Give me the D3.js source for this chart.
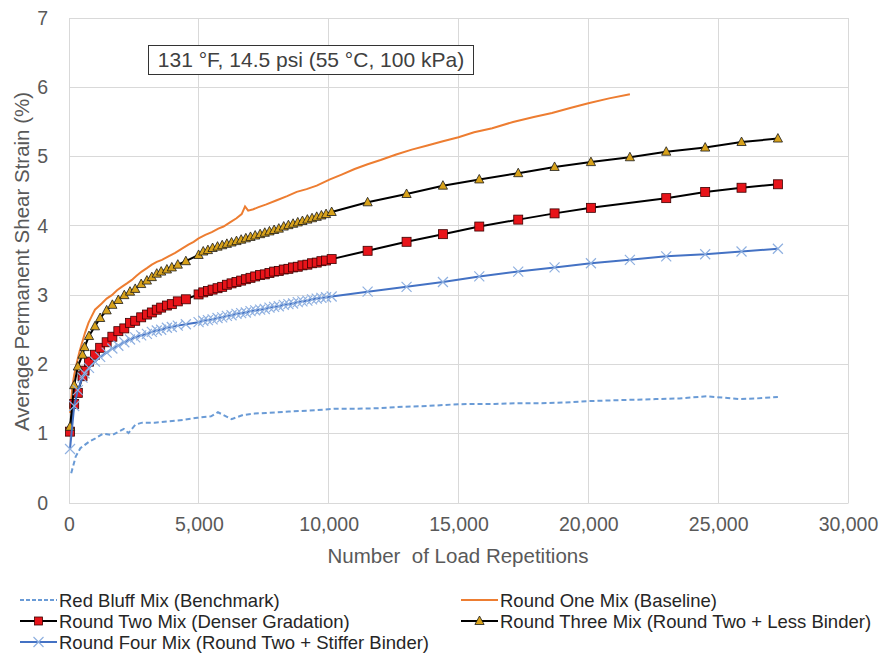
<!DOCTYPE html>
<html><head><meta charset="utf-8">
<script src="https://cdn.jsdelivr.net/npm/d3@7"></script>
<style>
html,body{margin:0;padding:0;background:#fff;}
svg{display:block;font-family:"Liberation Sans",Arial,sans-serif;}
</style></head>
<body>
<svg id="chart" width="882" height="656"></svg>
<script>
// ---------- data ----------
const xTicks = [0, 5000, 10000, 15000, 20000, 25000, 30000];
const yTicks = [0, 1, 2, 3, 4, 5, 6, 7];

const seriesNames = [
  "Red Bluff Mix (Benchmark)",
  "Round One Mix (Baseline)",
  "Round Two Mix (Denser Gradation)",
  "Round Three Mix (Round Two + Less Binder)",
  "Round Four Mix (Round Two + Stiffer Binder)"
];

const redBluffCycles = [85,258,435,790,1000,1315,1670,2110,2290,2555,2820,3300,3875,4400,4940,5470,5735,6260,6700,7150,7585,8470,9530,10240,11100,12010,12900,13780,14700,15540,16400,17310,18200,19080,19960,20800,21730,22600,23500,24570,25200,25810,26500,27300];
const redBluffStrain = [0.43,0.67,0.79,0.89,0.93,1.00,0.98,1.07,1.01,1.13,1.16,1.16,1.18,1.20,1.23,1.25,1.31,1.21,1.27,1.29,1.30,1.32,1.34,1.36,1.36,1.37,1.39,1.40,1.42,1.43,1.43,1.44,1.44,1.45,1.47,1.48,1.49,1.50,1.51,1.54,1.52,1.50,1.51,1.53];

const roundOneCycles = [40,130,200,300,400,500,620,750,880,1000,1260,1450,1650,1850,2030,2230,2420,2600,2800,3000,3190,3380,3580,3830,4090,4350,4600,4800,4990,5250,5500,5750,5950,6200,6450,6650,6780,6900,7100,7300,7600,8000,8400,8770,9150,9540,10050,10500,11000,11500,12000,12600,13200,13800,14400,15000,15600,16300,17100,17900,18600,19300,20000,20800,21600];
const roundOneStrain = [1.30,1.68,1.85,2.02,2.18,2.31,2.46,2.60,2.70,2.79,2.88,2.95,3.00,3.07,3.12,3.17,3.22,3.28,3.34,3.39,3.44,3.48,3.51,3.56,3.61,3.67,3.73,3.77,3.82,3.87,3.91,3.96,3.99,4.05,4.11,4.17,4.28,4.22,4.24,4.27,4.31,4.37,4.43,4.49,4.53,4.58,4.67,4.74,4.82,4.89,4.95,5.03,5.10,5.16,5.22,5.28,5.35,5.41,5.50,5.57,5.63,5.70,5.77,5.84,5.90];

const markedCycles = [40,200,340,520,600,770,1000,1200,1450,1670,1900,2130,2350,2550,2780,3000,3190,3380,3550,3770,3960,4190,4500,4990,
  5170,5350,5530,5720,5900,6080,6260,6450,6630,6810,6990,7170,7360,7540,7720,7900,8080,8270,8450,8630,8810,8990,9180,9360,9540,9720,9900,10115,
  11500,13000,14400,15800,17300,18700,20100,21600,23000,24500,25900,27300];

const roundTwoStrain = [1.03,1.43,1.59,1.83,1.91,2.04,2.14,2.24,2.32,2.40,2.48,2.52,2.60,2.63,2.68,2.72,2.75,2.79,2.82,2.85,2.87,2.91,2.94,3.01,
  3.04,3.06,3.08,3.10,3.12,3.15,3.17,3.19,3.21,3.23,3.25,3.27,3.29,3.30,3.32,3.34,3.35,3.37,3.38,3.40,3.41,3.43,3.44,3.46,3.47,3.49,3.50,3.52,
  3.64,3.77,3.88,3.99,4.09,4.18,4.26,null,4.40,4.49,4.55,4.60];

const roundThreeStrain = [1.10,1.70,1.97,2.14,2.25,2.41,2.55,2.67,2.78,2.86,2.93,3.00,3.05,3.09,3.16,3.21,3.26,3.31,3.34,3.37,3.40,3.44,3.49,3.58,
  3.63,3.65,3.68,3.70,3.72,3.74,3.76,3.78,3.80,3.82,3.84,3.86,3.88,3.90,3.92,3.94,3.96,3.99,4.01,4.03,4.05,4.07,4.09,4.11,4.13,4.15,4.17,4.20,
  4.34,4.46,4.58,4.67,4.76,4.85,4.92,4.99,5.07,5.13,5.21,5.26];

const roundFourStrain = [0.78,1.40,1.63,1.81,1.87,1.95,2.04,2.11,2.17,2.23,2.27,2.32,2.36,2.39,2.42,2.44,2.47,2.49,2.50,2.53,2.54,2.56,2.58,2.61,
  2.63,2.64,2.65,2.67,2.68,2.70,2.71,2.73,2.74,2.75,2.77,2.78,2.79,2.80,2.82,2.83,2.84,2.86,2.87,2.88,2.90,2.91,2.92,2.94,2.95,2.96,2.97,2.98,
  3.05,3.12,3.19,3.27,3.34,3.40,3.46,3.51,3.56,3.59,3.63,3.67];

// ---------- layout ----------
const svg = d3.select("#chart");
const M = {left: 69, right: 848, top: 18, bottom: 503};
const x = d3.scaleLinear().domain([0, 30000]).range([M.left, M.right]);
const y = d3.scaleLinear().domain([0, 7]).range([M.bottom, M.top]);
const grid = "#d9d9d9";
const tickCol = "#595959";

// gridlines
const gGrid = svg.append("g");
gGrid.selectAll("line.h").data(yTicks).join("line")
  .attr("x1", M.left).attr("x2", M.right)
  .attr("y1", d => y(d)).attr("y2", d => y(d))
  .attr("stroke", grid).attr("stroke-width", 1).attr("shape-rendering", "crispEdges");
gGrid.selectAll("line.v").data(xTicks).join("line")
  .attr("y1", M.top).attr("y2", M.bottom)
  .attr("x1", d => x(d)).attr("x2", d => x(d))
  .attr("stroke", grid).attr("stroke-width", 1).attr("shape-rendering", "crispEdges");

// axes (labels via d3 axes)
const fmt = d3.format(",");
const xAxis = svg.append("g").attr("transform", `translate(0,${M.bottom})`)
  .call(d3.axisBottom(x).tickValues(xTicks).tickFormat(fmt).tickSize(0).tickPadding(14));
const yAxis = svg.append("g").attr("transform", `translate(${M.left},0)`)
  .call(d3.axisLeft(y).tickValues(yTicks).tickFormat(d3.format("d")).tickSize(0).tickPadding(21));
[xAxis, yAxis].forEach(a => {
  a.select(".domain").attr("stroke", grid);
  a.selectAll("text").attr("fill", tickCol).attr("font-size", 19.5)
    .attr("font-family", '"Liberation Sans",Arial,sans-serif');
});

// axis titles
svg.append("text").attr("x", 458).attr("y", 563)
  .attr("text-anchor", "middle").attr("fill", tickCol).attr("font-size", 20.5)
  .attr("xml:space", "preserve").style("white-space", "pre")
  .text("Number  of Load Repetitions");
svg.append("text").attr("transform", `translate(29,${(M.top + M.bottom) / 2 + 1}) rotate(-90)`)
  .attr("text-anchor", "middle").attr("fill", tickCol).attr("font-size", 20.5)
  .text("Average Permanent Shear Strain (%)");

// annotation box
const ann = svg.append("g");
ann.append("rect").attr("x", 148.5).attr("y", 45.5).attr("width", 325).attr("height", 29)
  .attr("fill", "#fff").attr("stroke", "#333").attr("stroke-width", 1);
ann.append("text").attr("x", 311).attr("y", 67).attr("text-anchor", "middle")
  .attr("fill", "#404040").attr("font-size", 21)
  .text("131 °F, 14.5 psi (55 °C, 100 kPa)");

// ---------- series ----------
const line = d3.line().defined(d => d[1] != null).x(d => x(d[0])).y(d => y(d[1]));
const zip = (xs, ys) => xs.map((v, i) => [v, ys[i]]);
const plot = svg.append("g");

const redBluff = zip(redBluffCycles, redBluffStrain);
const roundOne = zip(roundOneCycles, roundOneStrain);
const roundTwo = zip(markedCycles, roundTwoStrain).filter(d => d[1] != null);
const roundThree = zip(markedCycles, roundThreeStrain);
const roundFour = zip(markedCycles, roundFourStrain);

const C = {
  redBluff: "#6a9bd6", roundOne: "#ed7d31", blackLine: "#000000",
  square: "#e8141a", tri: "#d8a21b", four: "#4472c4", xMark: "#8fb0e0"
};

plot.append("path").datum(redBluff).attr("d", line).attr("fill", "none")
  .attr("stroke", C.redBluff).attr("stroke-width", 2).attr("stroke-dasharray", "5,3");
plot.append("path").datum(roundOne).attr("d", line).attr("fill", "none")
  .attr("stroke", C.roundOne).attr("stroke-width", 2);

// Round Two
plot.append("path").datum(roundTwo).attr("d", line).attr("fill", "none")
  .attr("stroke", C.blackLine).attr("stroke-width", 2);
plot.selectAll("rect.sq").data(roundTwo).join("rect").attr("class", "sq")
  .attr("x", d => x(d[0]) - 4.5).attr("y", d => y(d[1]) - 4.5)
  .attr("width", 9).attr("height", 9)
  .attr("fill", C.square).attr("stroke", "#3a0000").attr("stroke-width", 0.8);

// Round Three
const triPath = "M0,-5L4.6,3.5L-4.6,3.5Z";
plot.append("path").datum(roundThree).attr("d", line).attr("fill", "none")
  .attr("stroke", C.blackLine).attr("stroke-width", 2);
plot.selectAll("path.tri").data(roundThree).join("path").attr("class", "tri")
  .attr("d", triPath).attr("transform", d => `translate(${x(d[0])},${y(d[1])})`)
  .attr("fill", C.tri).attr("stroke", "#1a1a1a").attr("stroke-width", 0.8);

// Round Four
const xPath = "M-5,-5L5,5M-5,5L5,-5";
plot.append("path").datum(roundFour).attr("d", line).attr("fill", "none")
  .attr("stroke", C.four).attr("stroke-width", 2);
plot.selectAll("path.xm").data(roundFour).join("path").attr("class", "xm")
  .attr("d", xPath).attr("transform", d => `translate(${x(d[0])},${y(d[1])})`)
  .attr("fill", "none").attr("stroke", C.xMark).attr("stroke-width", 1.2);

// ---------- legend ----------
const legendItems = [
  {name: seriesNames[0], col: 0, row: 0, stroke: C.redBluff, dash: "4,2", marker: null},
  {name: seriesNames[1], col: 1, row: 0, stroke: C.roundOne, dash: null, marker: null},
  {name: seriesNames[2], col: 0, row: 1, stroke: C.blackLine, dash: null, marker: "sq"},
  {name: seriesNames[3], col: 1, row: 1, stroke: C.blackLine, dash: null, marker: "tri"},
  {name: seriesNames[4], col: 0, row: 2, stroke: C.four, dash: null, marker: "x"}
];
const colX = [20, 461];
const rowY = [600, 621, 642];
const lg = svg.append("g");
legendItems.forEach(it => {
  const x0 = colX[it.col], yy = rowY[it.row];
  const g = lg.append("g");
  g.append("line").attr("x1", x0).attr("x2", x0 + 37).attr("y1", yy).attr("y2", yy)
    .attr("stroke", it.stroke).attr("stroke-width", 2)
    .attr("stroke-dasharray", it.dash);
  const cx = x0 + 18.5;
  if (it.marker === "sq") {
    g.append("rect").attr("x", cx - 4).attr("y", yy - 4).attr("width", 8).attr("height", 8)
      .attr("fill", C.square).attr("stroke", "#3a0000").attr("stroke-width", 0.8);
  } else if (it.marker === "tri") {
    g.append("path").attr("d", triPath).attr("transform", `translate(${cx},${yy})`)
      .attr("fill", C.tri).attr("stroke", "#1a1a1a").attr("stroke-width", 0.8);
  } else if (it.marker === "x") {
    g.append("path").attr("d", xPath).attr("transform", `translate(${cx},${yy})`)
      .attr("fill", "none").attr("stroke", C.xMark).attr("stroke-width", 1.2);
  }
  g.append("text").attr("x", x0 + 39).attr("y", yy + 6.5)
    .attr("fill", "#262626").attr("font-size", 18.5).text(it.name);
});
</script>
</body></html>
